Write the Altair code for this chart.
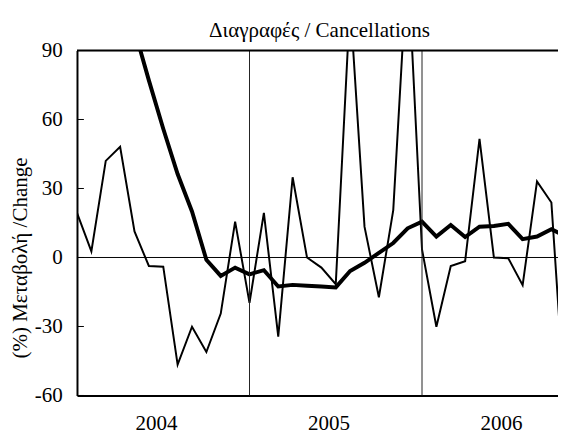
import altair as alt
import pandas as pd

# month index: 0 = Jan 2004
months_idx = list(range(35))
monthly = [19.4, 2.7, 42.0, 48.1, 11.3, -3.7, -4.0, -46.6, -30.1, -41.1, -24.4, 15.6,
           -19.7, 19.4, -34.4, 34.9, 0.0, -4.4, -11.6, 111.0, 13.4, -17.3, 20.6, 130.0,
           3.5, -30.1, -3.7, -1.6, 51.6, 0.0, -0.3, -12.0, 33.1, 23.9, -70.0]
smoothed = [140.0, 125.0, 112.0, 104.0, 99.0, 77.0, 56.0, 36.3, 20.0, -1.0, -8.0, -4.4,
            -7.3, -5.5, -12.6, -11.9, -12.3, -12.6, -13.0, -5.9, -2.3, 2.0, 6.3, 12.7,
            15.6, 9.1, 14.1, 8.9, 13.4, 13.7, 14.6, 8.0, 9.1, 12.3, 9.1]

year_labels = ["2004", "2005", "2006"]
year_centres = [5.5, 17.5, 29.5]
year_bounds = [12, 24]
y_ticks = [-60, -30, 0, 30, 60, 90]
chart_title = "Διαγραφές / Cancellations"
y_title = "(%) Μεταβολή  /Change"

FONT = "Times New Roman, Liberation Serif, DejaVu Serif, serif"
FS = 21.33

df = pd.DataFrame({"t": months_idx, "monthly": monthly, "smoothed": smoothed})
ticks_df = pd.DataFrame({"t": [0] * len(y_ticks), "v": y_ticks})
bounds_df = pd.DataFrame({"t": year_bounds})
zero_df = pd.DataFrame({"v": [0]})
top_df = pd.DataFrame({"v": [90]})
title_df = pd.DataFrame({"label": [chart_title]})

x_scale = alt.Scale(domain=[0, 33.46], nice=False, zero=False)
y_scale = alt.Scale(domain=[-60, 90], nice=False, zero=False)

label_expr = "[" + ",".join("'%s'" % s for s in year_labels) + "][floor(datum.value / 12)]"

x_axis = alt.Axis(values=year_centres, labelExpr=label_expr, ticks=False, grid=False,
                  domainWidth=2, domainColor="black", labelFont=FONT, labelFontSize=FS,
                  labelColor="black", labelPadding=18, title=None)
y_axis = alt.Axis(values=y_ticks, ticks=False, grid=False, domainWidth=2,
                  domainColor="black", labelFont=FONT, labelFontSize=FS,
                  labelColor="black", labelPadding=15, labelExpr="'' + datum.value",
                  title=y_title, titleFont=FONT, titleFontSize=FS,
                  titleFontWeight="normal", titleColor="black", titleAngle=-90,
                  titleAlign="center", titleBaseline="alphabetic", titleX=-51, titleY=210)

X = alt.X("t:Q", scale=x_scale, axis=x_axis)


def Y(field):
    return alt.Y(field, type="quantitative", scale=y_scale, axis=y_axis)


thin = alt.Chart(df).mark_line(color="black", strokeWidth=2, clip=True).encode(
    x=X, y=Y("monthly"))
thick = alt.Chart(df).mark_line(color="black", strokeWidth=4, clip=True).encode(
    x=X, y=Y("smoothed"))
bounds = alt.Chart(bounds_df).mark_rule(color="#222222", strokeWidth=1).encode(x=X)
zero = alt.Chart(zero_df).mark_rule(color="black", strokeWidth=1).encode(y=Y("v"))
top = alt.Chart(top_df).mark_rule(color="black", strokeWidth=2).encode(y=Y("v"))
ticks = alt.Chart(ticks_df).mark_rule(color="black", strokeWidth=1).encode(
    y=Y("v"), x=alt.value(0), x2=alt.value(7))
title = alt.Chart(title_df).mark_text(
    font=FONT, fontSize=FS, color="black", align="center", baseline="alphabetic"
).encode(text="label:N", x=alt.value(246), y=alt.value(-14))

chart = alt.layer(thin, thick, bounds, zero, ticks, top, title).properties(
    width=488, height=350,
    autosize=alt.AutoSizeParams(type="none"),
    padding={"left": 70, "top": 40, "right": 0, "bottom": 39},
).configure_view(stroke=None).configure(background="white")

chart.save("out.html", embed_options={"renderer": "svg", "actions": False})
